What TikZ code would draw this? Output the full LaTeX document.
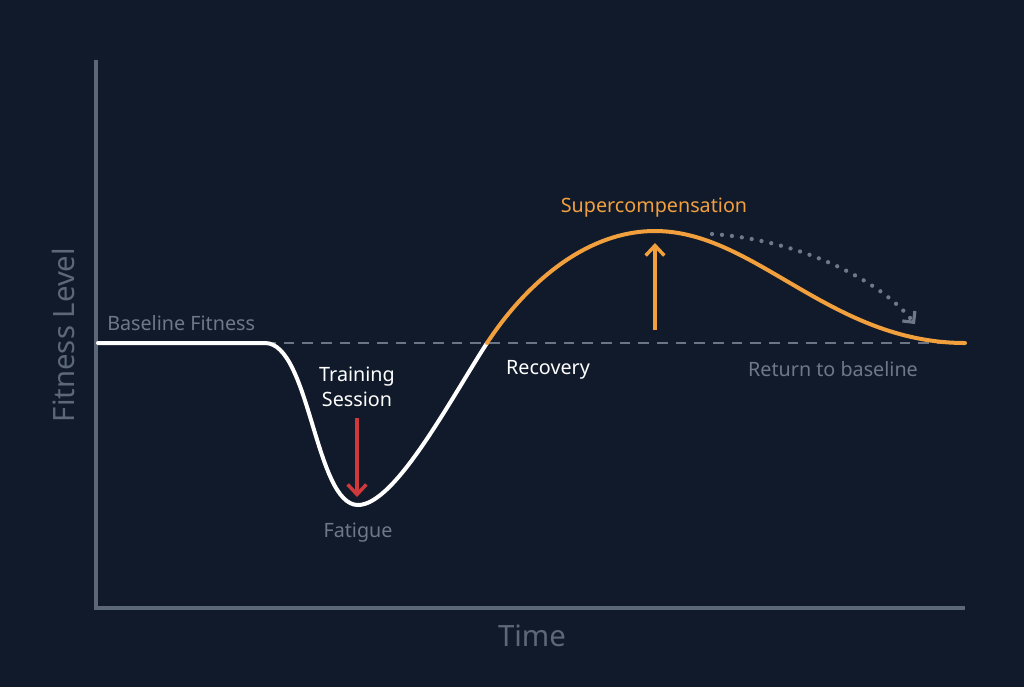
\documentclass[tikz,border=0pt]{standalone}
\usepackage{fontspec}
\setmainfont{Noto Sans}
\usetikzlibrary{arrows.meta}
\definecolor{bg}{HTML}{111A2B}
\definecolor{axiscol}{HTML}{5C6878}
\definecolor{lbl}{HTML}{6E7888}
\definecolor{dashcol}{HTML}{6B7585}
\definecolor{org}{HTML}{F2A03D}
\definecolor{redc}{HTML}{D0393B}
\tikzset{
  lab/.style={font=\fontsize{14.8pt}{18pt}\selectfont, inner sep=0pt, align=center},
  big/.style={font=\fontsize{22pt}{24pt}\selectfont, inner sep=0pt},
  curve/.style={line width=3pt, line cap=round, line join=round},
  arr/.style={-{Straight Barb[length=7.5pt,width=14pt,line width=2.6pt]}},
}
\begin{document}
\begin{tikzpicture}[x=0.75pt,y=-0.75pt]
\fill[bg] (0,0) rectangle (1024,687);
\useasboundingbox (0,0) rectangle (1024,687);
% axes
\coordinate (ytop) at (96,60);
\coordinate (orig) at (96,608);
\coordinate (xend) at (965,608);
\draw[axiscol, line width=2.4pt] (ytop) -- (orig) -- (xend);
% baseline dashed
\coordinate (b1) at (265,343);
\coordinate (b2) at (965,343);
\draw[dashcol, line width=1.7pt, dash pattern=on 8pt off 6pt] (b1) -- (b2);
% curve points
\coordinate (s) at (98,343);
\coordinate (d) at (265,343);
\coordinate (m) at (358,505);
\coordinate (c) at (487,343);
\coordinate (p) at (655,231);
\coordinate (e) at (965,343);
\draw[white, curve] (s) -- (d) .. controls (310,343) and (315,505) .. (m)
  .. controls (395,505) and (450,400) .. (c);
\draw[org, curve] (c) .. controls (525,285) and (585,231) .. (p)
  .. controls (755,231) and (830,343) .. (e);
% labels
\node[lab, lbl, anchor=west] (base) at (107,323) {Baseline Fitness};
\node[lab, white] (train) at (357,387) {Training\\[1pt]Session};
\node[lab, lbl] (fat) at (358,533) {Fatigue};
\node[lab, white] (rec) at (548,370) {Recovery};
\node[lab, org] (sup) at (654,208) {Supercompensation};
\node[lab, lbl] (ret) at (833,369) {Return to baseline};
\node[big, axiscol, rotate=90] (yl) at (63,335) {Fitness Level};
\node[big, axiscol] (xl) at (532,636) {Time};
% arrows
\coordinate (r1) at (357,418);
\coordinate (r2) at (357,497);
\draw[redc, line width=2.6pt, arr] (r1) -- (r2);
\coordinate (o1) at (655,330);
\coordinate (o2) at (655,243);
\draw[org, line width=2.6pt, arr] (o1) -- (o2);
\coordinate (t1) at (712,234);
\coordinate (t2) at (915,324);
\draw[lbl, line width=3.2pt, dash pattern=on 0pt off 7.5pt, line cap=round,
  -{Straight Barb[length=6pt,width=12pt,line width=2.4pt]}]
  (t1) .. controls (800,240) and (880,280) .. (t2);
\end{tikzpicture}
\end{document}
